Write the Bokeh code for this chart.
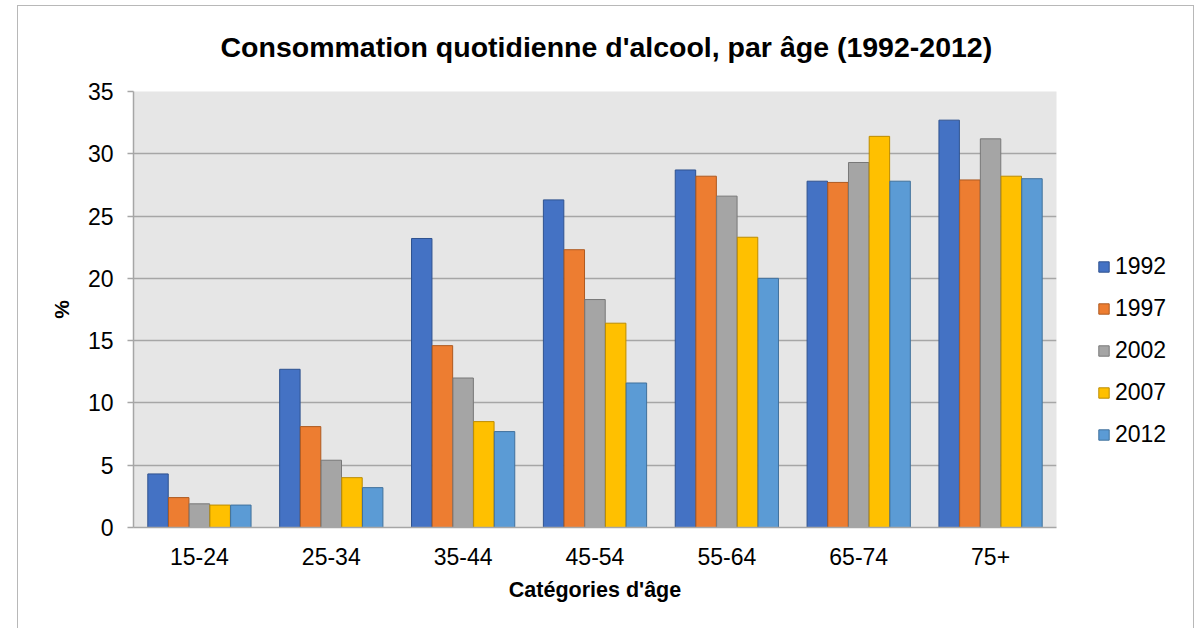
from bokeh.plotting import figure
from bokeh.layouts import row
from bokeh.models import ColumnDataSource, FactorRange, Legend, LegendItem, FixedTicker
from bokeh.transform import dodge
from bokeh.embed import file_html
from bokeh.resources import INLINE

categories = ["15-24", "25-34", "35-44", "45-54", "55-64", "65-74", "75+"]
years = ["1992", "1997", "2002", "2007", "2012"]
v1992 = [4.3, 12.7, 23.2, 26.3, 28.7, 27.8, 32.7]
v1997 = [2.4, 8.1, 14.6, 22.3, 28.2, 27.7, 27.9]
v2002 = [1.9, 5.4, 12.0, 18.3, 26.6, 29.3, 31.2]
v2007 = [1.8, 4.0, 8.5, 16.4, 23.3, 31.4, 28.2]
v2012 = [1.8, 3.2, 7.7, 11.6, 20.0, 27.8, 28.0]
y_ticks = [0, 5, 10, 15, 20, 25, 30, 35]

fills = ["#4472C4", "#ED7D31", "#A5A5A5", "#FFC000", "#5B9BD5"]
lines = ["#2F528F", "#AE5A21", "#787878", "#BC8C00", "#41719C"]

source = ColumnDataSource(data=dict(cat=categories, y1992=v1992, y1997=v1997,
                                    y2002=v2002, y2007=v2007, y2012=v2012))

FONT = "Liberation Sans"
W1, W2, H = 1080, 116, 628

p = figure(width=W1, height=H, x_range=FactorRange(*categories),
           y_range=(0, 35), output_backend="svg", toolbar_location=None,
           min_border_left=133, min_border_right=W1 - 1056, min_border_top=91,
           min_border_bottom=H - 527,
           title="Consommation quotidienne d'alcool, par âge (1992-2012)")

p.background_fill_color = "#e6e6e6"
p.border_fill_color = None
p.outline_line_color = None

p.title.text_font = FONT
p.title.text_font_size = "28.5px"
p.title.text_font_style = "bold"
p.title.text_color = "black"
p.title.align = "left"
p.title.offset = 87
p.title.standoff = 57

step = 0.157
offsets = [-2 * step, -step, 0, step, 2 * step]
for yr, off, fc, lc in zip(years, offsets, fills, lines):
    p.vbar(x=dodge("cat", off, range=p.x_range), top="y" + yr, width=0.155,
           source=source, fill_color=fc, line_color=lc, line_width=1)

# axes
p.yaxis.ticker = FixedTicker(ticks=y_ticks)
p.yaxis.major_label_text_font = FONT
p.yaxis.major_label_text_font_size = "23px"
p.yaxis.major_label_text_color = "black"
p.yaxis.axis_line_color = "#a6a6a6"
p.yaxis.axis_line_width = 1.5
p.yaxis.major_tick_line_color = "#a6a6a6"
p.yaxis.major_tick_line_width = 1.5
p.yaxis.major_tick_out = 6
p.yaxis.major_tick_in = 0
p.yaxis.minor_tick_line_color = None
p.yaxis.major_label_standoff = 14
p.yaxis.axis_label = "%"
p.yaxis.axis_label_text_font = FONT
p.yaxis.axis_label_text_font_size = "21px"
p.yaxis.axis_label_text_font_style = "bold"
p.yaxis.axis_label_text_color = "black"
p.yaxis.axis_label_standoff = 12

p.xaxis.major_label_text_font = FONT
p.xaxis.major_label_text_font_size = "23px"
p.xaxis.major_label_text_color = "black"
p.xaxis.axis_line_color = "#a6a6a6"
p.xaxis.axis_line_width = 1.5
p.xaxis.major_tick_line_color = None
p.xaxis.major_tick_out = 0
p.xaxis.major_tick_in = 0
p.xaxis.major_label_standoff = 20
p.xaxis.axis_label = "Catégories d'âge"
p.xaxis.axis_label_text_font = FONT
p.xaxis.axis_label_text_font_size = "21.5px"
p.xaxis.axis_label_text_font_style = "bold"
p.xaxis.axis_label_text_color = "black"
p.xaxis.axis_label_standoff = 10

p.xgrid.grid_line_color = None
p.ygrid.grid_line_color = "#a6a6a6"
p.ygrid.grid_line_width = 1.5

# legend panel to the right of the plot area (hidden twin renderers carry the swatches)
pl = figure(width=W2, height=H, x_range=FactorRange(*categories), y_range=(0, 35),
            output_backend="svg", toolbar_location=None,
            x_axis_location=None, y_axis_location=None,
            min_border_left=0, min_border_right=0, min_border_top=0, min_border_bottom=0)
pl.border_fill_color = None
pl.background_fill_color = None
pl.outline_line_color = None
pl.xgrid.grid_line_color = None
pl.ygrid.grid_line_color = None
leg_renderers = []
for yr, off, fc, lc in zip(years, offsets, fills, lines):
    r = pl.vbar(x=dodge("cat", off, range=pl.x_range), top="y" + yr, width=0.155,
                source=source, fill_color=fc, line_color=lc, line_width=1, visible=False)
    leg_renderers.append(r)

legend = Legend(items=[LegendItem(label=yr, renderers=[r]) for yr, r in zip(years, leg_renderers)],
                location=(1097 - W1, 527 - 448))
legend.border_line_color = None
legend.background_fill_alpha = 0
legend.inactive_fill_alpha = 0
legend.padding = 0
legend.margin = 0
legend.spacing = 15
legend.glyph_width = 13
legend.glyph_height = 13
legend.label_height = 27
legend.label_standoff = 5
legend.label_text_font = FONT
legend.label_text_font_size = "23px"
legend.label_text_color = "black"
legend.click_policy = "none"
pl.add_layout(legend, "center")

# outer chart border (CSS lines behind the transparent canvases)
bc = "#b8b8b8"
g = f"linear-gradient({bc},{bc})"
layout = row(p, pl, spacing=0, styles={
    "background": (f"{g} 17px 5px / 1177px 1px no-repeat, "
                   f"{g} 17px 5px / 1px 1000px no-repeat, "
                   f"{g} 1193px 5px / 1px 1000px no-repeat, white"),
})

open("out.html", "w").write(file_html(layout, INLINE))
